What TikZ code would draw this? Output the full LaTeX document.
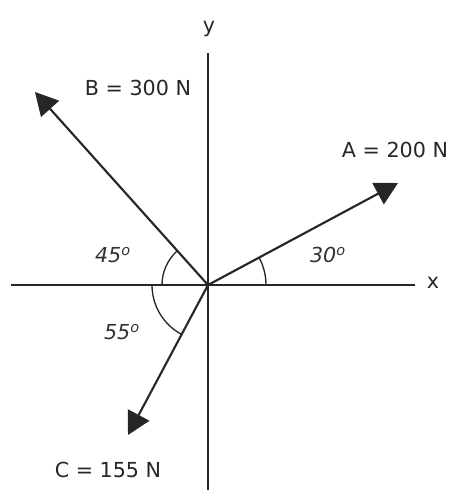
\documentclass[tikz,border=0pt]{standalone}
\usepackage{fontspec}
\setmainfont{DejaVu Sans}
\usetikzlibrary{positioning, arrows.meta}
\tikzset{
    axis/.style={
        draw, line width=1.4pt, black!85
    },
    mm/.style={
        line width=1.6pt, black!85, -{Triangle[length=17pt, width=18pt]}
    },
    force/.style={
        font=\fontsize{15.5pt}{18pt}\selectfont, text=black!85
    },
    angl/.style={
        font=\fontsize{15.5pt}{18pt}\selectfont\itshape, text=black!80
    },
    arcs/.style={
        draw, line width=1pt, black!85
    }
}
\begin{document}
\begin{tikzpicture}[x=0.75pt, y=0.75pt]
        % \draw[help lines, step=20] (-200,-200) grid (240,280);
        \useasboundingbox (-208,-205) rectangle (246,285);

        % Axes

        \coordinate (o)      at (0,0);
        \coordinate (xleft)  at (-197,0);
        \coordinate (xright) at (207,0);
        \coordinate (ytop)   at (0,232);
        \coordinate (ybot)   at (0,-205);

        \node[force] (xlabel) at (225,2)  {x};
        \node[force] (ylabel) at (1,256)  {y};

        \path[axis] (xleft) -- (xright)
                (ybot) -- (ytop);

        % Forces

        \coordinate (tipA) at (190,102);
        \coordinate (tipB) at (-173,193);
        \coordinate (tipC) at (-80,-150);

        \node[force] (forceA) at (187,135)  {A = 200 N};
        \node[force] (forceB) at (-70,197)  {B = 300 N};
        \node[force] (forceC) at (-100,-185) {C = 155 N};

        \path (o) edge[mm] (tipA)
                (o) edge[mm] (tipB)
                (o) edge[mm] (tipC);

        % Angles

        \node[angl] (angA) at (120,30)  {30\textsuperscript{o}};
        \node[angl] (angB) at (-95,30)  {45\textsuperscript{o}};
        \node[angl] (angC) at (-86,-47) {55\textsuperscript{o}};

        \draw[arcs] (58,0) arc[start angle=0, end angle=28, radius=58];
        \draw[arcs] (-46,0) arc[start angle=180, end angle=132, radius=46];
        \draw[arcs] (-56,0) arc[start angle=180, end angle=242, radius=56];
    \end{tikzpicture}
\end{document}
